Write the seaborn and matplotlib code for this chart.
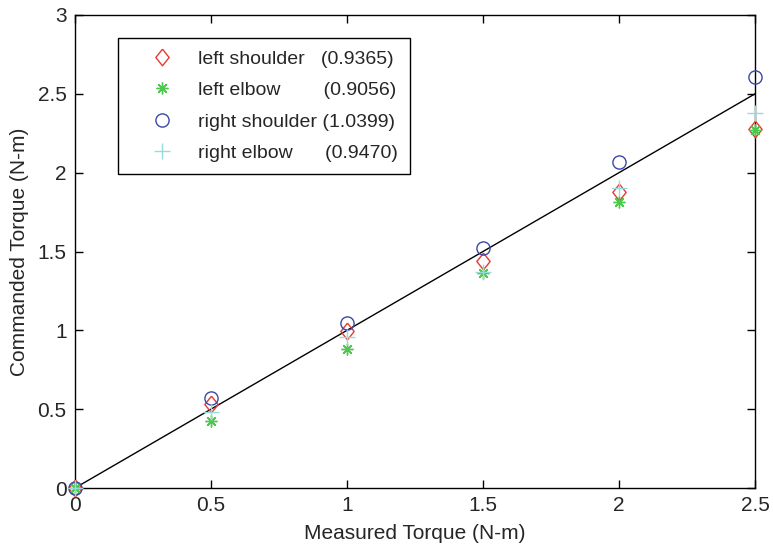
import matplotlib
matplotlib.use("Agg")
import matplotlib.pyplot as plt
import seaborn as sns
import pandas as pd

# Measured torque setpoints (N-m)
measured = [0.0, 0.5, 1.0, 1.5, 2.0, 2.5]

# Commanded torque for each joint (N-m)
left_shoulder = [0.0, 0.533, 0.998, 1.44, 1.877, 2.28]
left_elbow = [0.0, 0.427, 0.881, 1.363, 1.815, 2.27]
right_shoulder = [0.0, 0.571, 1.048, 1.524, 2.065, 2.608]
right_elbow = [0.0, 0.48, 0.957, 1.37, 1.90, 2.38]

# Fitted slopes shown in the legend
slopes = ["(0.9365)", "(0.9056)", "(1.0399)", "(0.9470)"]
names = ["left shoulder", "left elbow", "right shoulder", "right elbow"]
pads = ["   ", "        ", " ", "      "]

# Ideal 1:1 reference line
ideal_x = [0.0, 2.5]
ideal_y = [0.0, 2.5]

sns.set_theme(style="ticks")
plt.rcParams["font.family"] = ["Liberation Sans", "DejaVu Sans"]
plt.rcParams["xtick.direction"] = "in"
plt.rcParams["ytick.direction"] = "in"

fig = plt.figure(figsize=(7.73, 5.52), dpi=100)
ax = fig.add_axes([75 / 773, 64 / 552, 680 / 773, 473 / 552])

# slightly tall diamond, like the classic MATLAB 'd' marker
diamond = [(0, 1), (0.8, 0), (0, -1), (-0.8, 0), (0, 1)]

series = [
    (left_shoulder, diamond, "#e8392e", dict(markersize=12, mfc="none", mew=1.0)),
    (left_elbow, (8, 2, 0), "#4cc94c", dict(markersize=8.5, mew=1.0)),
    (right_shoulder, "o", "#3a48a8", dict(markersize=9.5, mfc="none", mew=1.0)),
    (right_elbow, "+", "#97dcdc", dict(markersize=11, mew=1.0)),
]

sns.lineplot(x=ideal_x, y=ideal_y, ax=ax, color="black", linewidth=1.0, zorder=1)

for (vals, mk, col, kw), nm, pad, sl in zip(series, names, pads, slopes):
    df = pd.DataFrame({"x": measured, "y": vals})
    sns.lineplot(data=df, x="x", y="y", ax=ax, linestyle="", marker=mk,
                 color=col, mec=col, clip_on=False, zorder=3,
                 label=f"{nm}{pad}{sl}", **kw)

ax.set_xlim(0, 2.5)
ax.set_ylim(0, 3)
ax.set_xticks([0, 0.5, 1, 1.5, 2, 2.5])
ax.set_xticklabels(["0", "0.5", "1", "1.5", "2", "2.5"])
ax.set_yticks([0, 0.5, 1, 1.5, 2, 2.5, 3])
ax.set_yticklabels(["0", "0.5", "1", "1.5", "2", "2.5", "3"])
ax.tick_params(axis="both", which="both", direction="in", length=6, width=1,
               labelsize=15, top=True, right=True, color="black", pad=6)
for s in ax.spines.values():
    s.set_visible(True)
    s.set_color("black")
    s.set_linewidth(1.0)

ax.set_xlabel("Measured Torque (N-m)", fontsize=15, labelpad=6)
ax.set_ylabel("Commanded Torque (N-m)", fontsize=15, labelpad=6)

leg = ax.legend(loc="upper left", bbox_to_anchor=(0.063, 0.951), borderaxespad=0,
                fontsize=14, frameon=True, fancybox=False, edgecolor="black",
                framealpha=1, handlelength=3.3, handletextpad=0.2,
                labelspacing=0.71, borderpad=0.62)
leg.get_frame().set_linewidth(1.0)

fig.savefig("out.png", dpi=100, facecolor="white")
